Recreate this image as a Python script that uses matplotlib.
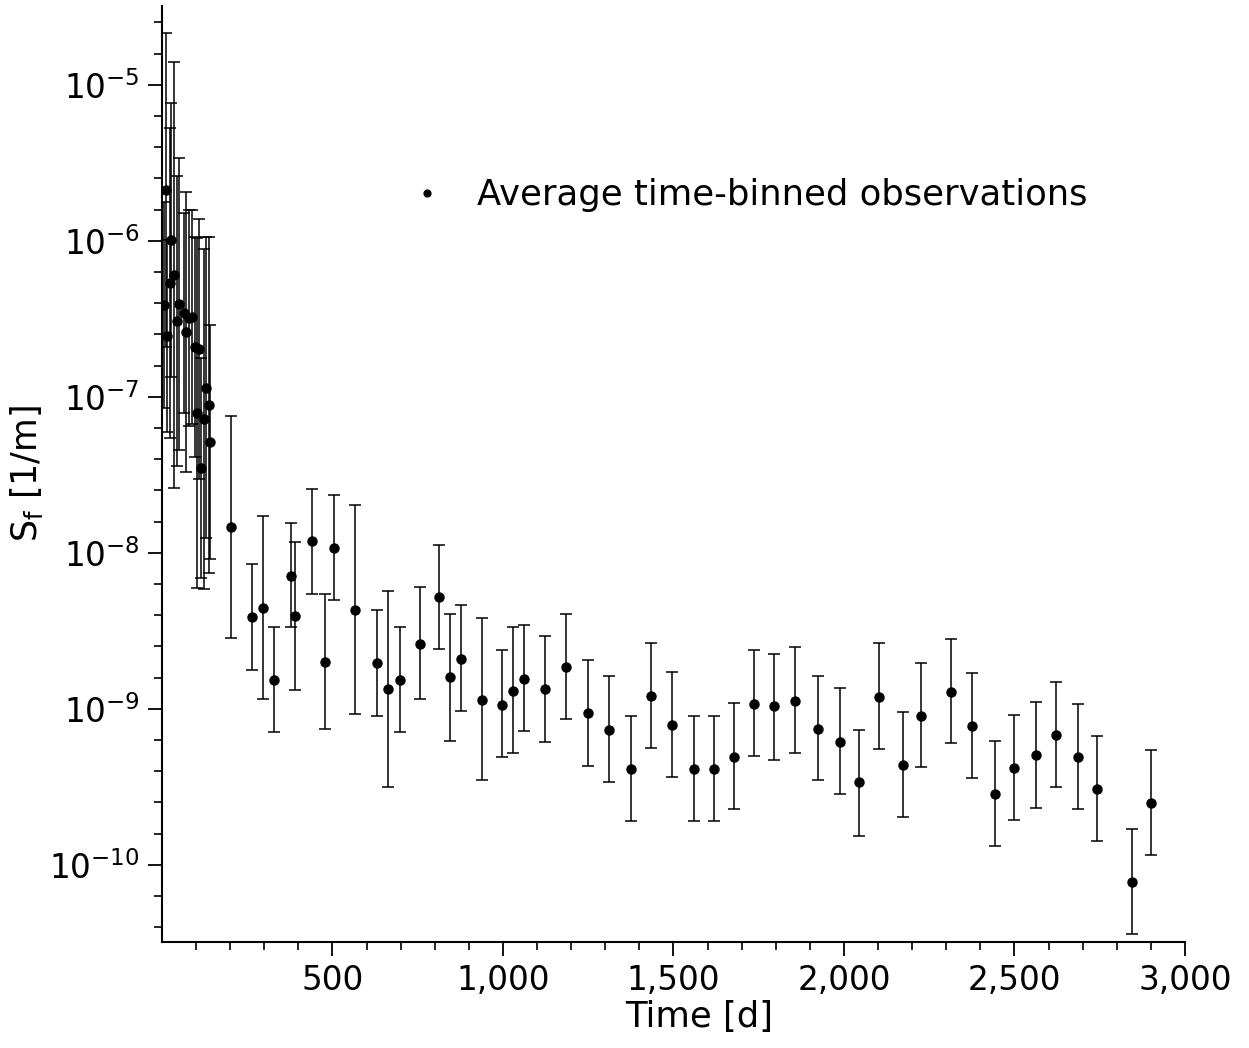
import numpy as np
import matplotlib
matplotlib.use("Agg")
import matplotlib.pyplot as plt
from matplotlib.ticker import FixedLocator, StrMethodFormatter, LogFormatterSciNotation

# time-binned averages: time [d], S_f [1/m], lower / upper error bounds
time_d = [5.9, 10.9, 15.9, 23.5, 25.6, 35.3, 45.3, 50.0, 64.7, 71.8,
          79.4, 88.2, 96.2, 102.0, 108.8, 114.7, 122.6, 127.6, 137.4, 140.3,
          202, 263, 297, 328.5, 378.5, 390, 441, 478.5, 505.6, 566.8,
          629.4, 663.8, 698.2, 755.9, 813.8, 844.1, 875.6, 937.4, 998.2, 1029.4,
          1062.9, 1121.8, 1183.5, 1249, 1310.9, 1375.6, 1434.4, 1495.3, 1560.9, 1618.8,
          1676.5, 1737.4, 1795.3, 1857, 1922.6, 1987.4, 2045.3, 2104.1, 2172.6, 2226.5,
          2314.7, 2376.5, 2442.4, 2500, 2564.7, 2622.6, 2685.3, 2743.2, 2846.2, 2901.2]

sf = [3.89e-7, 2.12e-6, 2.46e-7, 5.38e-7, 1.01e-6, 6.05e-7, 3.07e-7, 3.94e-7, 3.45e-7, 2.61e-7,
      3.21e-7, 3.26e-7, 2.09e-7, 7.89e-8, 2.03e-7, 3.51e-8, 7.23e-8, 1.14e-7, 8.89e-8, 5.15e-8,
      1.46e-8, 3.86e-9, 4.43e-9, 1.53e-9, 7.15e-9, 3.93e-9, 1.19e-8, 2.0e-9, 1.08e-8, 4.27e-9,
      1.96e-9, 1.34e-9, 1.53e-9, 2.62e-9, 5.18e-9, 1.59e-9, 2.08e-9, 1.14e-9, 1.06e-9, 1.30e-9,
      1.56e-9, 1.34e-9, 1.85e-9, 9.42e-10, 7.33e-10, 4.10e-10, 1.21e-9, 7.89e-10, 4.10e-10, 4.10e-10,
      4.90e-10, 1.08e-9, 1.04e-9, 1.12e-9, 7.44e-10, 6.14e-10, 3.39e-10, 1.19e-9, 4.34e-10, 9.06e-10,
      1.28e-9, 7.78e-10, 2.84e-10, 4.17e-10, 5.07e-10, 6.78e-10, 4.88e-10, 3.07e-10, 7.78e-11, 2.49e-10]

sf_lo = [8.51e-8, 2.09e-7, 5.97e-8, 5.46e-8, 1.34e-7, 2.61e-8, 3.61e-8, 4.57e-8, 7.89e-8, 3.31e-8,
         6.52e-8, 6.71e-8, 4.13e-8, 5.96e-9, 2.99e-8, 6.92e-9, 5.87e-9, 1.25e-8, 7.45e-9, 9.16e-9,
         2.86e-9, 1.77e-9, 1.16e-9, 7.13e-10, 3.34e-9, 1.32e-9, 5.43e-9, 7.41e-10, 5.02e-9, 9.33e-10,
         9.02e-10, 3.16e-10, 7.13e-10, 1.16e-9, 2.42e-9, 6.24e-10, 9.70e-10, 3.49e-10, 4.92e-10, 5.22e-10,
         7.26e-10, 6.12e-10, 8.63e-10, 4.31e-10, 3.42e-10, 1.91e-10, 5.65e-10, 3.68e-10, 1.91e-10, 1.91e-10,
         2.28e-10, 5.02e-10, 4.73e-10, 5.22e-10, 3.49e-10, 2.86e-10, 1.54e-10, 5.55e-10, 2.03e-10, 4.23e-10,
         6.0e-10, 3.61e-10, 1.32e-10, 1.94e-10, 2.32e-10, 3.16e-10, 2.28e-10, 1.43e-10, 3.63e-11, 1.15e-10]

sf_hi = [1.78e-6, 2.15e-5, 1.01e-6, 5.31e-6, 7.66e-6, 1.40e-5, 2.61e-6, 3.40e-6, 1.51e-6, 2.06e-6,
         1.58e-6, 1.58e-6, 1.06e-6, 1.04e-6, 1.38e-6, 1.78e-7, 8.89e-7, 1.05e-6, 1.06e-6, 2.90e-7,
         7.55e-8, 8.47e-9, 1.73e-8, 3.34e-9, 1.56e-8, 1.18e-8, 2.58e-8, 5.43e-9, 2.35e-8, 2.02e-8,
         4.31e-9, 5.73e-9, 3.34e-9, 6.08e-9, 1.12e-8, 4.06e-9, 4.65e-9, 3.81e-9, 2.37e-9, 3.34e-9,
         3.47e-9, 2.92e-9, 4.05e-9, 2.07e-9, 1.63e-9, 9.02e-10, 2.65e-9, 1.73e-9, 9.02e-10, 9.02e-10,
         1.09e-9, 2.40e-9, 2.26e-9, 2.49e-9, 1.63e-9, 1.37e-9, 7.36e-10, 2.65e-9, 9.53e-10, 1.98e-9,
         2.81e-9, 1.70e-9, 6.21e-10, 9.16e-10, 1.11e-9, 1.48e-9, 1.07e-9, 6.71e-10, 1.70e-10, 5.43e-10]

x_major = [500, 1000, 1500, 2000, 2500, 3000]

sf = np.array(sf)
yerr = [sf - np.array(sf_lo), np.array(sf_hi) - sf]

fig = plt.figure(figsize=(12.49, 10.48), dpi=100)
ax = fig.add_axes([0.1297, 0.1011, 0.8190, 0.8932])

ax.errorbar(time_d, sf, yerr=yerr, fmt='none', ecolor='black',
            elinewidth=1.1, capsize=4, capthick=1.1)
ax.plot(time_d, sf, 'o', color='black', ms=6.5, label='Average time-binned observations')

ax.set_yscale('log')
ax.set_xlim(0, 3000)
ax.set_ylim(3.2e-11, 3.2e-5)

ax.xaxis.set_major_locator(FixedLocator(x_major))
ax.xaxis.set_minor_locator(FixedLocator(np.arange(100, 3000, 100)))
ax.xaxis.set_major_formatter(StrMethodFormatter('{x:,.0f}'))

ax.yaxis.set_major_locator(FixedLocator([10.0 ** k for k in range(-11, -3)]))
ax.yaxis.set_minor_locator(FixedLocator([10.0 ** (k + j * 0.2) for k in range(-12, -3) for j in range(1, 5)]))
ax.yaxis.set_major_formatter(LogFormatterSciNotation())

for side in ('top', 'right'):
    ax.spines[side].set_visible(False)
for side in ('left', 'bottom'):
    ax.spines[side].set_linewidth(1.5)

ax.tick_params(which='major', direction='out', length=10, width=1.3, labelsize=23.5, pad=6)
ax.tick_params(which='minor', direction='out', length=6, width=1.2)

ax.set_xlabel('Time [d]', fontsize=25.5)
ax.xaxis.set_label_coords(0.525, -0.062)
ax.set_ylabel(r'S$_\mathregular{f}$ [1/m]', fontsize=25)
ax.yaxis.set_label_coords(-0.114, 0.5)

ax.legend(loc='center left', bbox_to_anchor=(0.211, 0.798), frameon=False,
          fontsize=25.5, markerscale=0.75, handlelength=1.0, handletextpad=0.9)

fig.savefig('out.png', dpi=100)
